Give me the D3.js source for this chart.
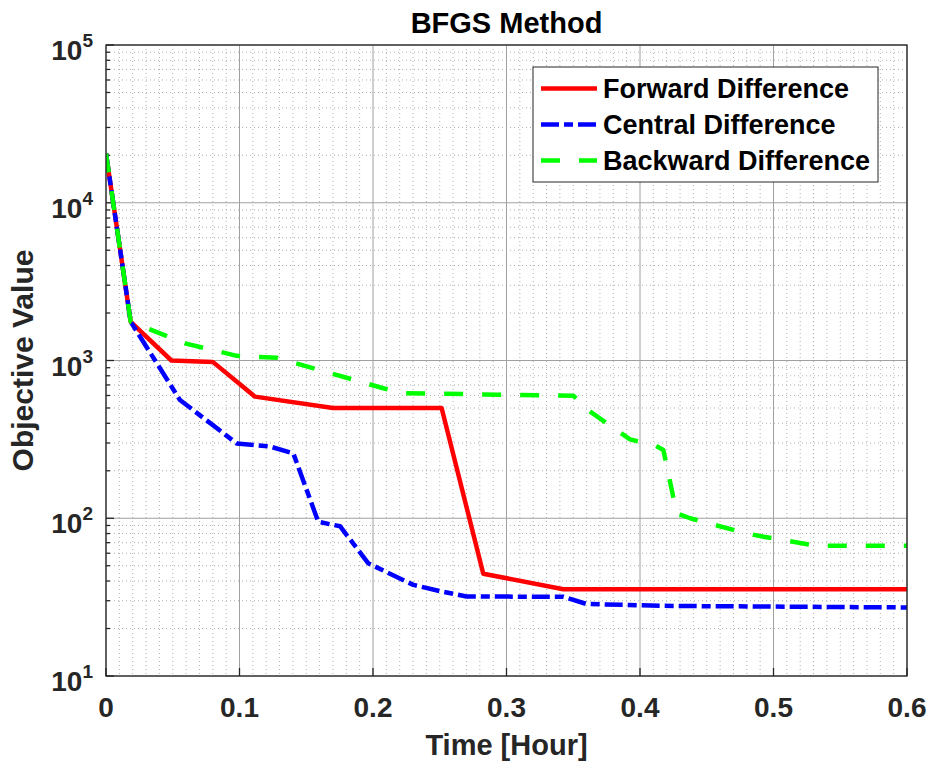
<!DOCTYPE html>
<html>
<head>
<meta charset="utf-8">
<script src="https://cdn.jsdelivr.net/npm/d3@7"></script>
<style>
    body { margin: 0; background: #fff; }
    text { font-family: Arial, "Liberation Sans", Helvetica, sans-serif; font-weight: bold; }
</style>
</head>
<body>
<div id="chart"></div>
<script>
// Data (time in hours, objective value on log scale)
const forwardTime  = [0, 0.0185, 0.049, 0.080, 0.1116, 0.170, 0.2514, 0.2826, 0.3426, 0.6];
const forwardValue = [20500, 1760, 1000, 980, 590, 500, 500, 44.5, 35.5, 35.5];

const centralTime  = [0, 0.0185, 0.0554, 0.0979, 0.1228, 0.1403, 0.159, 0.1753, 0.1965, 0.2302, 0.2502, 0.270, 0.3426, 0.36, 0.425, 0.6];
const centralValue = [20500, 1760, 562, 298, 285, 258, 95, 89, 51.8, 37.8, 34.5, 31.9, 31.8, 28.6, 27.8, 27.2];

const backwardTime  = [0, 0.0185, 0.06, 0.098, 0.128, 0.2077, 0.2227, 0.35, 0.361, 0.3925, 0.411, 0.4175, 0.4275, 0.4375, 0.48, 0.4925, 0.532, 0.6];
const backwardValue = [20500, 1760, 1280, 1070, 1040, 667, 620, 598, 485, 316, 291, 271, 107.5, 100, 80, 76.4, 67, 67];

const seriesNames = ["Forward Difference", "Central Difference", "Backward Difference"];
const xTicks = [0, 0.1, 0.2, 0.3, 0.4, 0.5, 0.6];
const yTickExponents = [1, 2, 3, 4, 5];

function createLogChart(containerId) {
    const width = 930;
    const height = 765;
    const margin = { top: 45, right: 23, bottom: 89, left: 106 };
    const innerWidth = width - margin.left - margin.right;
    const innerHeight = height - margin.top - margin.bottom;

    const svg = d3.select("#" + containerId)
        .append("svg")
        .attr("width", width)
        .attr("height", height);

    const g = svg.append("g")
        .attr("transform", `translate(${margin.left},${margin.top})`);

    // Scales
    const x = d3.scaleLinear().domain([0, 0.6]).range([0, innerWidth]);
    const y = d3.scaleLog().domain([10, 1e5]).range([innerHeight, 0]);

    // Minor grid: every 0.01 on x, 2..9 per decade on y
    const xMinor = d3.range(1, 60).map(i => i / 100).filter(v => Math.round(v * 100) % 10 !== 0);
    const yMinor = [];
    for (let e = 1; e < 5; e++) {
        for (let m = 2; m <= 9; m++) yMinor.push(m * Math.pow(10, e));
    }

    g.append("g")
        .selectAll("line")
        .data(xMinor)
        .enter()
        .append("line")
        .attr("x1", d => x(d)).attr("x2", d => x(d))
        .attr("y1", 0).attr("y2", innerHeight)
        .attr("stroke", "#b0b0b0")
        .attr("stroke-width", 1)
        .attr("stroke-dasharray", "1,3");

    g.append("g")
        .selectAll("line")
        .data(yMinor)
        .enter()
        .append("line")
        .attr("x1", 0).attr("x2", innerWidth)
        .attr("y1", d => y(d)).attr("y2", d => y(d))
        .attr("stroke", "#b0b0b0")
        .attr("stroke-width", 1)
        .attr("stroke-dasharray", "1,3");

    // Major grid
    g.append("g")
        .selectAll("line")
        .data(xTicks)
        .enter()
        .append("line")
        .attr("x1", d => x(d)).attr("x2", d => x(d))
        .attr("y1", 0).attr("y2", innerHeight)
        .attr("stroke", "#a0a0a0")
        .attr("stroke-width", 1);

    g.append("g")
        .selectAll("line")
        .data(yTickExponents)
        .enter()
        .append("line")
        .attr("x1", 0).attr("x2", innerWidth)
        .attr("y1", d => y(Math.pow(10, d))).attr("y2", d => y(Math.pow(10, d)))
        .attr("stroke", "#a0a0a0")
        .attr("stroke-width", 1);

    // Inward ticks on left and bottom
    const ticks = g.append("g").attr("stroke", "#262626").attr("stroke-width", 1.3);
    ticks.selectAll(".ymaj")
        .data(yTickExponents)
        .enter()
        .append("line")
        .attr("x1", 0).attr("x2", 8)
        .attr("y1", d => y(Math.pow(10, d))).attr("y2", d => y(Math.pow(10, d)));
    ticks.selectAll(".ymin")
        .data(yMinor)
        .enter()
        .append("line")
        .attr("x1", 0).attr("x2", 4)
        .attr("y1", d => y(d)).attr("y2", d => y(d));
    ticks.selectAll(".xmaj")
        .data(xTicks)
        .enter()
        .append("line")
        .attr("x1", d => x(d)).attr("x2", d => x(d))
        .attr("y1", innerHeight).attr("y2", innerHeight - 8);

    // Clip the data lines to the axes
    svg.append("defs").append("clipPath")
        .attr("id", "plot-clip")
        .append("rect")
        .attr("width", innerWidth)
        .attr("height", innerHeight);

    const line = d3.line()
        .x(d => x(d[0]))
        .y(d => y(d[1]));

    const series = [
        { name: seriesNames[0], time: forwardTime, value: forwardValue, color: "#ff0000", dash: null },
        { name: seriesNames[1], time: centralTime, value: centralValue, color: "#0000ff", dash: "18,5,9,5" },
        { name: seriesNames[2], time: backwardTime, value: backwardValue, color: "#00ff00", dash: "19,19" }
    ];

    const lines = g.append("g").attr("clip-path", "url(#plot-clip)");
    series.forEach(s => {
        lines.append("path")
            .datum(s.time.map((t, i) => [t, s.value[i]]))
            .attr("d", line)
            .attr("fill", "none")
            .attr("stroke", s.color)
            .attr("stroke-width", 4.5)
            .attr("stroke-linejoin", "round")
            .attr("stroke-dasharray", s.dash);
    });

    // Axes box
    g.append("rect")
        .attr("width", innerWidth)
        .attr("height", innerHeight)
        .attr("fill", "none")
        .attr("stroke", "#262626")
        .attr("stroke-width", 1.3);

    // X tick labels
    g.append("g")
        .selectAll("text")
        .data(xTicks)
        .enter()
        .append("text")
        .attr("x", d => x(d))
        .attr("y", innerHeight + 41)
        .attr("text-anchor", "middle")
        .style("font-size", "28px")
        .style("fill", "#262626")
        .text(d => d3.format("")(d));

    // Y tick labels as 10^n
    const yLabels = g.append("g")
        .selectAll("text")
        .data(yTickExponents)
        .enter()
        .append("text")
        .attr("x", -13)
        .attr("y", d => y(Math.pow(10, d)) + 15)
        .attr("text-anchor", "end")
        .style("font-size", "28px")
        .style("fill", "#262626");
    yLabels.append("tspan").text("10");
    yLabels.append("tspan")
        .attr("dy", -13)
        .style("font-size", "19px")
        .text(d => d);

    // Title and axis labels
    svg.append("text")
        .attr("x", margin.left + innerWidth / 2)
        .attr("y", 33)
        .attr("text-anchor", "middle")
        .style("font-size", "29px")
        .style("fill", "#000")
        .text("BFGS Method");

    svg.append("text")
        .attr("x", margin.left + innerWidth / 2)
        .attr("y", 755)
        .attr("text-anchor", "middle")
        .style("font-size", "29px")
        .style("fill", "#262626")
        .text("Time [Hour]");

    svg.append("text")
        .attr("transform", `translate(33,${margin.top + innerHeight / 2}) rotate(-90)`)
        .attr("text-anchor", "middle")
        .style("font-size", "30px")
        .style("fill", "#262626")
        .text("Objective Value");

    // Legend
    const legend = svg.append("g").attr("transform", "translate(533,67)");
    legend.append("rect")
        .attr("width", 345)
        .attr("height", 115)
        .attr("fill", "#fff")
        .attr("stroke", "#262626")
        .attr("stroke-width", 1);

    const rows = legend.selectAll(".legend-row")
        .data(series)
        .enter()
        .append("g")
        .attr("class", "legend-row")
        .attr("transform", (d, i) => `translate(0,${21.5 + i * 36})`);
    rows.append("line")
        .attr("x1", 8).attr("x2", 64)
        .attr("stroke", d => d.color)
        .attr("stroke-width", 4.5)
        .attr("stroke-dasharray", d => d.dash);
    rows.append("text")
        .attr("x", 70)
        .attr("y", 9.5)
        .style("font-size", "27px")
        .style("fill", "#000")
        .text(d => d.name);
}

createLogChart("chart");
</script>
</body>
</html>
